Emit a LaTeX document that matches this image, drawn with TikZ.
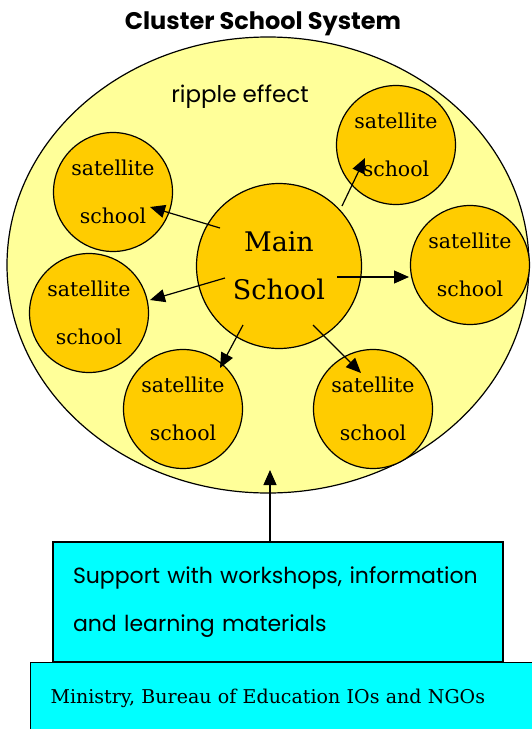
\documentclass[tikz,border=0pt]{standalone}
\usepackage{fontspec}
\setmainfont{DejaVu Serif}
\newfontfamily\gothic{Poppins}
\usetikzlibrary{arrows.meta,shapes.geometric}
\definecolor{ripplefill}{RGB}{255,255,153}
\definecolor{schoolfill}{RGB}{255,204,0}
\definecolor{boxfill}{RGB}{0,255,255}
\begin{document}
\begin{tikzpicture}[x=1pt,y=-1pt,line width=1.2pt,
    sat/.style={circle,draw,fill=schoolfill,minimum size=119,inner sep=0pt,align=center,
        font={\fontsize{20.5}{48}\selectfont}},
    hub/.style={circle,draw,fill=schoolfill,minimum size=165,inner sep=0pt,align=center,
        font={\fontsize{27}{48}\selectfont}},
    box/.style={rectangle,draw,fill=boxfill,inner sep=0pt,align=left},
    arr/.style={-{Triangle[length=15pt,width=13pt]}}]
    \useasboundingbox (0,0) rectangle (531,729);
    \node[font={\gothic\bfseries\fontsize{24}{26}\selectfont}] (title) at (263,24) {Cluster School System};
    \node[ellipse,draw,fill=ripplefill,minimum width=522,minimum height=456] (cluster) at (268,265) {};
    \node[font={\gothic\fontsize{23}{26}\selectfont}] (ripple) at (240,97) {ripple effect};
    \node[hub] (main) at (279,266) {Main\\School};
    \node[sat] (sat1) at (113,192) {satellite\\school};
    \node[sat] (sat2) at (396,145) {satellite\\school};
    \node[sat] (sat3) at (470,265) {satellite\\school};
    \node[sat] (sat4) at (89,313) {satellite\\school};
    \node[sat] (sat5) at (183,409) {satellite\\school};
    \node[sat] (sat6) at (373,409) {satellite\\school};
    % arrow ends
    \coordinate (a1) at (220,228); \coordinate (b1) at (150,207);
    \coordinate (a2) at (342,206); \coordinate (b2) at (365,158);
    \coordinate (a3) at (337,277); \coordinate (b3) at (409,277);
    \coordinate (a4) at (225,278); \coordinate (b4) at (150,300);
    \coordinate (a5) at (243,325); \coordinate (b5) at (220,368);
    \coordinate (a6) at (313,325); \coordinate (b6) at (361,373);
    \foreach \i in {1,...,6} \draw[arr] (a\i) -- (b\i);
    \node[box,minimum width=450,minimum height=120,text width=410,
        font={\gothic\fontsize{22}{48}\selectfont}] (support) at (278,602)
        {Support with workshops, information\\and learning materials};
    \node[box,anchor=north west,minimum width=520,minimum height=72,text width=480,
        font={\fontsize{19}{22}\selectfont}] (ministry) at (30,662)
        {Ministry, Bureau of Education IOs and NGOs};
    \coordinate (boost) at (270,470);
    \draw[arr] (support.north -| boost) -- (boost);
\end{tikzpicture}
\end{document}
